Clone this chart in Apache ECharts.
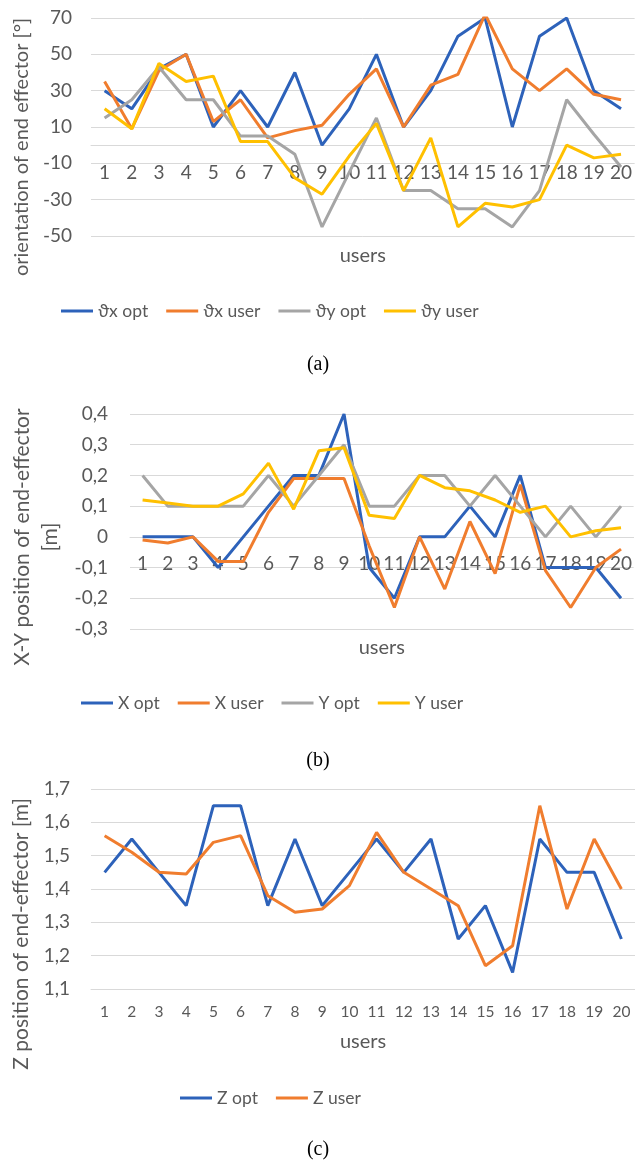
<!DOCTYPE html>
<html><head><meta charset="utf-8">
<script src="https://cdn.jsdelivr.net/npm/echarts@6/dist/echarts.min.js"></script>
<style>html,body{margin:0;padding:0;background:#fff}#c{width:635px;height:1163px}</style>
</head><body><div id="c"></div>
<script>
const users = ['1','2','3','4','5','6','7','8','9','10','11','12','13','14','15','16','17','18','19','20'];

// (a) orientation of end effector [°]
const thxOpt  = [30, 20, 42, 50, 10, 30, 10, 40, 0, 20, 50, 10, 30, 60, 70, 10, 60, 70, 30, 20];
const thxUser = [35, 9, 41, 50, 13, 25, 4, 8, 11, 28, 42, 10, 33, 39, 72, 42, 30, 42, 28, 25];
const thyOpt  = [15, 25, 43, 25, 25, 5, 5, -5, -45, -15, 15, -25, -25, -35, -35, -45, -25, 25, 6, -12];
const thyUser = [20, 9, 45, 35, 38, 2, 2, -18, -27, -6, 12, -25, 4, -45, -32, -34, -30, 0, -7, -5];

// (b) X-Y position of end-effector [m]
const xOpt  = [0, 0, 0, -0.1, 0, 0.1, 0.2, 0.2, 0.4, -0.1, -0.2, 0, 0, 0.1, 0, 0.2, -0.1, -0.1, -0.1, -0.2];
const xUser = [-0.01, -0.02, 0, -0.08, -0.08, 0.08, 0.19, 0.19, 0.19, -0.03, -0.23, 0, -0.17, 0.05, -0.12, 0.17, -0.11, -0.23, -0.1, -0.04];
const yOpt  = [0.2, 0.1, 0.1, 0.1, 0.1, 0.2, 0.1, 0.2, 0.3, 0.1, 0.1, 0.2, 0.2, 0.1, 0.2, 0.1, 0, 0.1, 0, 0.1];
const yUser = [0.12, 0.11, 0.1, 0.1, 0.14, 0.24, 0.09, 0.28, 0.29, 0.07, 0.06, 0.2, 0.16, 0.15, 0.12, 0.08, 0.1, 0, 0.02, 0.03];

// (c) Z position of end-effector [m]
const zOpt  = [1.45, 1.55, 1.45, 1.35, 1.65, 1.65, 1.35, 1.55, 1.35, 1.45, 1.55, 1.45, 1.55, 1.25, 1.35, 1.15, 1.55, 1.45, 1.45, 1.25];
const zUser = [1.56, 1.51, 1.45, 1.445, 1.54, 1.56, 1.38, 1.33, 1.34, 1.41, 1.57, 1.45, 1.40, 1.35, 1.17, 1.23, 1.65, 1.34, 1.55, 1.40];

// axis ranges [min, max, interval]
const rangeA = [-50, 70, 20];
const rangeB = [-0.3, 0.4, 0.1];
const rangeC = [1.1, 1.7, 0.1];

const legendA = ['ϑx opt', 'ϑx user', 'ϑy opt', 'ϑy user'];
const legendB = ['X opt', 'X user', 'Y opt', 'Y user'];
const legendC = ['Z opt', 'Z user'];
const yNameA = 'orientation of end effector [°]';
const yNameB = 'X-Y position of end-effector\n[m]';
const yNameC = 'Z position of end-effector [m]';
const xName = 'users';
const captions = ['(a)', '(b)', '(c)'];

const BLUE = '#2D62BA', ORANGE = '#F07D2E', GRAY = '#A5A5A5', YELLOW = '#FFC000';
const TXT = '#595959', GRID = '#D9D9D9';
const FONT = 'Lato';

// grid geometry
const G = [
  {left: 91, top: 18, width: 546, height: 218},
  {left: 130, top: 414, width: 505, height: 215},
  {left: 91, top: 789, width: 546, height: 200}
];
// offset that lifts the category axis up to the value 0 of its value axis
function zeroOffset(g, r) {
  const [min, max] = r;
  if (min >= 0) return 0;
  return -g.height * (0 - min) / (max - min);
}

const chart = echarts.init(document.getElementById('c'), null, {renderer: 'canvas'});

function xAx(gi, offset, labelSize, margin, nameGap) {
  return {
    type: 'category', data: users, gridIndex: gi, boundaryGap: true,
    position: 'bottom', offset: offset,
    axisLine: {show: true, onZero: false, lineStyle: {color: GRID, width: 1}},
    axisTick: {show: false},
    axisLabel: {color: TXT, fontSize: labelSize, fontFamily: FONT, margin: margin, interval: 0},
    name: xName, nameLocation: 'middle', nameGap: nameGap,
    nameTextStyle: {color: TXT, fontSize: 20, fontFamily: FONT}
  };
}
function yAx(gi, r, fmt, margin) {
  return {
    type: 'value', gridIndex: gi, min: r[0], max: r[1], interval: r[2],
    axisLine: {show: false}, axisTick: {show: false},
    splitLine: {show: true, lineStyle: {color: GRID, width: 1}},
    axisLabel: {color: TXT, fontSize: 19, fontFamily: FONT, margin: margin, formatter: fmt}
  };
}
const commaFmt = v => String(Math.round(v * 10) / 10).replace('.', ',');

function line(name, data, color, gi) {
  return {
    name: name, type: 'line', data: data, xAxisIndex: gi, yAxisIndex: gi,
    symbol: 'none', showSymbol: false, smooth: false,
    lineStyle: {color: color, width: 3}, itemStyle: {color: color}
  };
}

const legendCommon = {
  icon: 'rect', itemWidth: 32, itemHeight: 3, itemGap: 18,
  textStyle: {color: TXT, fontSize: 17.5, fontFamily: FONT}
};

chart.setOption({
  animation: false,
  grid: G.map(g => Object.assign({containLabel: false}, g)),
  xAxis: [
    xAx(0, zeroOffset(G[0], rangeA), 19, 18, 100),
    xAx(1, zeroOffset(G[1], rangeB), 19, 18, 101),
    xAx(2, 0, 15.5, 15, 43)
  ],
  yAxis: [
    yAx(0, rangeA, v => String(v), 19),
    yAx(1, rangeB, commaFmt, 22),
    yAx(2, rangeC, v => v.toFixed(1).replace('.', ','), 21)
  ],
  legend: [
    Object.assign({data: legendA, left: 56, top: 297}, legendCommon),
    Object.assign({data: legendB, left: 76, top: 689}, legendCommon),
    Object.assign({data: legendC, left: 175, top: 1084}, legendCommon)
  ],
  graphic: [
    {type: 'text', x: 22, y: 147, rotation: Math.PI / 2,
      style: {text: yNameA, fill: TXT, font: '20px ' + FONT, align: 'center', verticalAlign: 'middle'}},
    {type: 'text', x: 36, y: 537, rotation: Math.PI / 2,
      style: {text: yNameB, fill: TXT, font: '21px ' + FONT, align: 'center', verticalAlign: 'middle', lineHeight: 28}},
    {type: 'text', x: 21, y: 934, rotation: Math.PI / 2,
      style: {text: yNameC, fill: TXT, font: '21px ' + FONT, align: 'center', verticalAlign: 'middle'}},
    {type: 'text', x: 318, y: 365, style: {text: captions[0], fill: '#000', font: '20px "Liberation Serif"', align: 'center', verticalAlign: 'middle'}},
    {type: 'text', x: 318, y: 761, style: {text: captions[1], fill: '#000', font: '20px "Liberation Serif"', align: 'center', verticalAlign: 'middle'}},
    {type: 'text', x: 318, y: 1150, style: {text: captions[2], fill: '#000', font: '20px "Liberation Serif"', align: 'center', verticalAlign: 'middle'}}
  ],
  series: [
    line('ϑx opt', thxOpt, BLUE, 0),
    line('ϑx user', thxUser, ORANGE, 0),
    line('ϑy opt', thyOpt, GRAY, 0),
    line('ϑy user', thyUser, YELLOW, 0),
    line('X opt', xOpt, BLUE, 1),
    line('X user', xUser, ORANGE, 1),
    line('Y opt', yOpt, GRAY, 1),
    line('Y user', yUser, YELLOW, 1),
    line('Z opt', zOpt, BLUE, 2),
    line('Z user', zUser, ORANGE, 2)
  ]
});
</script></body></html>
